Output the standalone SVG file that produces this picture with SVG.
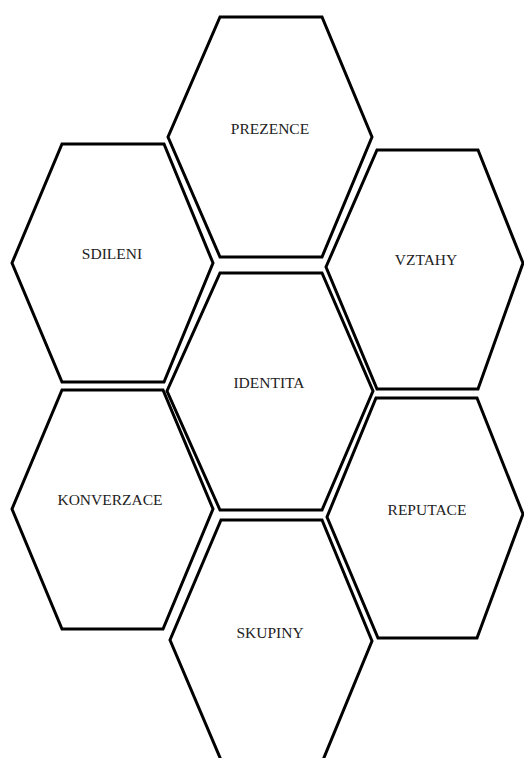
<svg xmlns="http://www.w3.org/2000/svg" width="524" height="758" viewBox="0 0 524 758">
<style>
.hex{fill:#fff;stroke:#000;stroke-width:3;stroke-linejoin:miter}
text{font-family:Liberation Serif,Times New Roman,DejaVu Serif,Noto Serif,serif;font-size:15.5px;fill:#222;text-anchor:middle}
</style>
<rect width="524" height="758" fill="#fff"/>
<g id="prezence"><polygon class="hex" points="220,17 322,17 372,137 322,257 220,257 168,137"/><text x="270" y="133.5" font-family="Liberation Serif">PREZENCE</text></g>
<g id="sdileni"><polygon class="hex" points="62,144 164,144 213,263 164,382 62,382 12,263"/><text x="112" y="259" font-family="Liberation Serif">SDILENI</text></g>
<g id="vztahy"><polygon class="hex" points="377,150 478,150 523,263 478,389 377,389 326,267"/><text x="426" y="264.5" font-family="Liberation Serif">VZTAHY</text></g>
<g id="identita"><polygon class="hex" points="220,273 322,273 373,391 322,510 220,510 167,391"/><text x="269" y="387.5" font-family="Liberation Serif">IDENTITA</text></g>
<g id="konverzace"><polygon class="hex" points="62,390 163,390 213,509 163,629 62,629 12,509"/><text x="110" y="504.5" font-family="Liberation Serif">KONVERZACE</text></g>
<g id="reputace"><polygon class="hex" points="376,398 477,398 523,514 477,638 378,638 327,517"/><text x="427" y="514.5" font-family="Liberation Serif">REPUTACE</text></g>
<g id="skupiny"><polygon class="hex" points="221,520 322,520 372,641 323,760 221,760 170,640"/><text x="270" y="637.5" font-family="Liberation Serif">SKUPINY</text></g>
<g id="connectors"/>
</svg>
